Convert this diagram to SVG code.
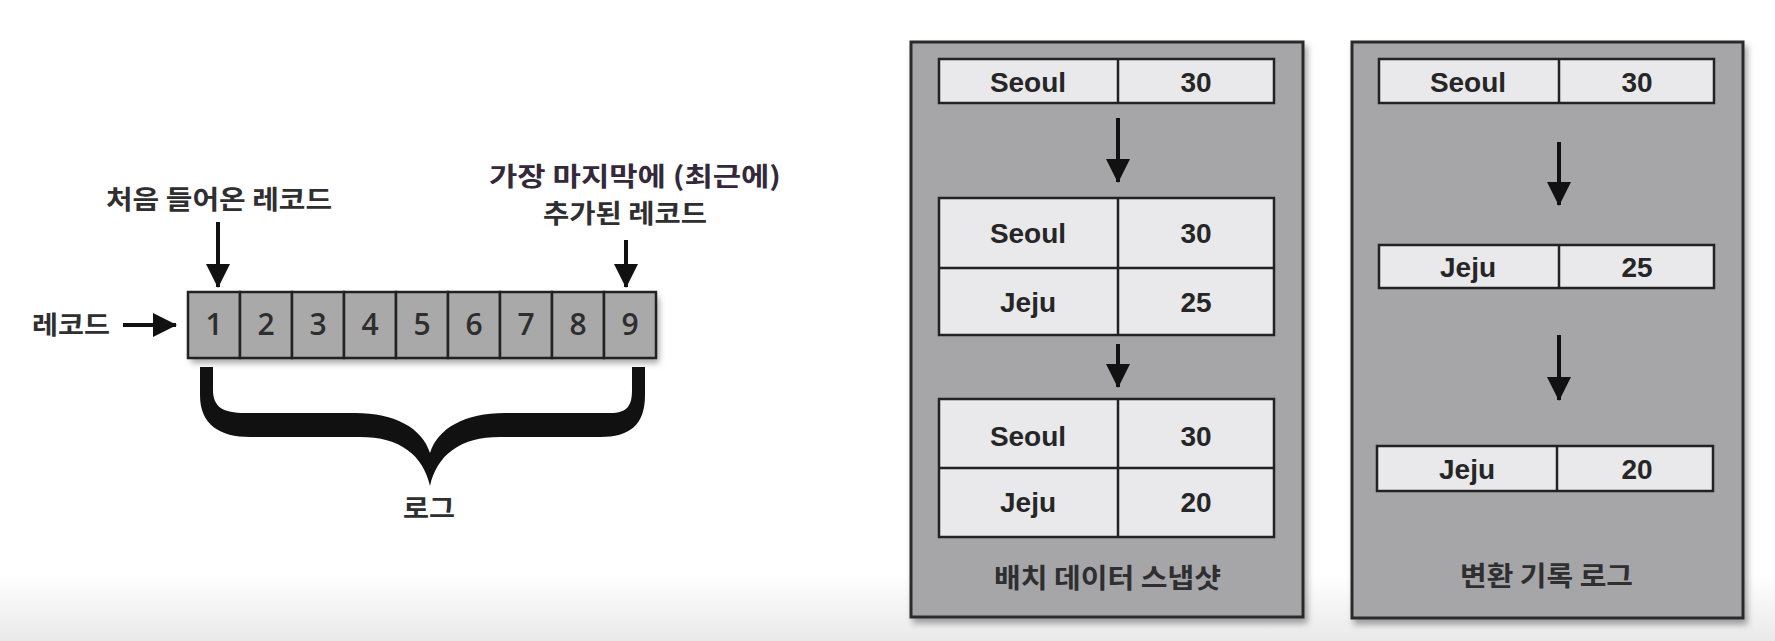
<svg xmlns="http://www.w3.org/2000/svg" width="1775" height="641" viewBox="0 0 1775 641">
<style>
.ko{font-family:"Noto Sans CJK KR","Noto Sans",sans-serif;font-weight:700;fill:#2f2f31;}
.cellnum{font-family:"Open Sans","Noto Sans",sans-serif;font-weight:600;font-size:30px;fill:#2e2e2e;text-anchor:middle;}
.tx{font-family:"Liberation Sans",Arial,sans-serif;font-weight:700;font-size:28px;fill:#262626;text-anchor:middle;}
.lcell{fill:#a9a9aa;stroke:#222;stroke-width:2.5;}
.panel{fill:#a6a6a8;stroke:#2b2b2b;stroke-width:3;}
.row{fill:#e9e9eb;stroke:#222;stroke-width:2.5;}
.sep{stroke:#222;stroke-width:2.5;}
.arr{stroke:#111;stroke-width:4;fill:none;}
</style>
<defs>
<marker id="ah" markerUnits="userSpaceOnUse" markerWidth="24" markerHeight="24" refX="23" refY="12" orient="auto">
<path d="M0,0 L24,12 L0,24 Z" fill="#111"/>
</marker>
<filter id="sh" x="-10%" y="-10%" width="125%" height="130%">
<feDropShadow dx="3" dy="5" stdDeviation="3" flood-color="#000" flood-opacity="0.35"/>
</filter>
<linearGradient id="bg" x1="0" y1="0" x2="0" y2="1">
<stop offset="0" stop-color="#ffffff"/>
<stop offset="1" stop-color="#e9e9e9"/>
</linearGradient>
</defs>
<rect x="0" y="0" width="1775" height="641" fill="#ffffff"/>
<rect x="0" y="575" width="1775" height="66" fill="url(#bg)"/>

<!-- Left: record log -->
<g id="log-strip">
<g filter="url(#sh)">
<rect x="188" y="292" width="468" height="66" fill="#a9a9aa"/>
</g>
<rect class="lcell" x="188" y="292" width="52" height="66"/>
<rect class="lcell" x="240" y="292" width="52" height="66"/>
<rect class="lcell" x="292" y="292" width="52" height="66"/>
<rect class="lcell" x="344" y="292" width="52" height="66"/>
<rect class="lcell" x="396" y="292" width="52" height="66"/>
<rect class="lcell" x="448" y="292" width="52" height="66"/>
<rect class="lcell" x="500" y="292" width="52" height="66"/>
<rect class="lcell" x="552" y="292" width="52" height="66"/>
<rect class="lcell" x="604" y="292" width="52" height="66"/>
<text class="cellnum" x="214" y="335">1</text>
<text class="cellnum" x="266" y="335">2</text>
<text class="cellnum" x="318" y="335">3</text>
<text class="cellnum" x="370" y="335">4</text>
<text class="cellnum" x="422" y="335">5</text>
<text class="cellnum" x="474" y="335">6</text>
<text class="cellnum" x="526" y="335">7</text>
<text class="cellnum" x="578" y="335">8</text>
<text class="cellnum" x="630" y="335">9</text>
</g>

<g id="label-record">
<text class="ko" x="32" y="334" font-size="25" textLength="78" lengthAdjust="spacingAndGlyphs">레코드</text>
</g>
<g id="label-first">
<text class="ko" x="106" y="209" font-size="26" textLength="226" lengthAdjust="spacingAndGlyphs">처음 들어온 레코드</text>
</g>
<g id="label-last">
<text class="ko" x="489" y="186" font-size="26" textLength="292" lengthAdjust="spacingAndGlyphs" style="fill:#33293a">가장 마지막에 (최근에)</text>
<text class="ko" x="543" y="223" font-size="26" textLength="164" lengthAdjust="spacingAndGlyphs">추가된 레코드</text>
</g>
<g id="brace">
<path d="M200,367 L213,367 L213,390 C213,407 223,413 245,413 L355,413 C395,413 422,428 430,453 C438,428 465,413 505,413 L610,413 C628,413 632,405 632,390 L632,367 L645,367 L645,395 C645,425 630,437 600,437 L500,437 C460,437 437,455 430,486 C423,455 400,437 360,437 L250,437 C220,437 200,425 200,395 Z" fill="#111"/>
</g>
<g id="label-log">
<text class="ko" x="403" y="518" font-size="26" textLength="52" lengthAdjust="spacingAndGlyphs">로그</text>
</g>

<!-- Panel 1: batch snapshot -->
<g id="panel-snapshot">
<rect class="panel" x="911" y="42" width="392" height="575" filter="url(#sh)"/>
<rect class="row" x="939" y="59" width="335" height="44"/>
<line class="sep" x1="1118" y1="59" x2="1118" y2="103"/>
<text class="tx" x="1028" y="92">Seoul</text>
<text class="tx" x="1196" y="92">30</text>

<rect class="row" x="939" y="198" width="335" height="137"/>
<line class="sep" x1="939" y1="268" x2="1274" y2="268"/>
<line class="sep" x1="1118" y1="198" x2="1118" y2="335"/>
<text class="tx" x="1028" y="243">Seoul</text>
<text class="tx" x="1196" y="243">30</text>
<text class="tx" x="1028" y="312">Jeju</text>
<text class="tx" x="1196" y="312">25</text>

<rect class="row" x="939" y="399" width="335" height="138"/>
<line class="sep" x1="939" y1="468" x2="1274" y2="468"/>
<line class="sep" x1="1118" y1="399" x2="1118" y2="537"/>
<text class="tx" x="1028" y="446">Seoul</text>
<text class="tx" x="1196" y="446">30</text>
<text class="tx" x="1028" y="512">Jeju</text>
<text class="tx" x="1196" y="512">20</text>

<text class="ko" x="994" y="588" font-size="27" textLength="227" lengthAdjust="spacingAndGlyphs">배치 데이터 스냅샷</text>
</g>

<!-- Panel 2: changelog -->
<g id="panel-changelog">
<rect class="panel" x="1352" y="42" width="391" height="576" filter="url(#sh)"/>
<rect class="row" x="1379" y="59" width="335" height="44"/>
<line class="sep" x1="1559" y1="59" x2="1559" y2="103"/>
<text class="tx" x="1468" y="92">Seoul</text>
<text class="tx" x="1637" y="92">30</text>

<rect class="row" x="1379" y="245" width="335" height="43"/>
<line class="sep" x1="1559" y1="245" x2="1559" y2="288"/>
<text class="tx" x="1468" y="277">Jeju</text>
<text class="tx" x="1637" y="277">25</text>

<rect class="row" x="1377" y="446" width="336" height="45"/>
<line class="sep" x1="1557" y1="446" x2="1557" y2="491"/>
<text class="tx" x="1467" y="479">Jeju</text>
<text class="tx" x="1637" y="479">20</text>

<text class="ko" x="1460" y="586" font-size="27" textLength="173" lengthAdjust="spacingAndGlyphs">변환 기록 로그</text>
</g>

<g id="connectors">
<line class="arr" x1="123" y1="325" x2="176" y2="325" marker-end="url(#ah)"/>
<line class="arr" x1="218" y1="222" x2="218" y2="287" marker-end="url(#ah)"/>
<line class="arr" x1="626" y1="240" x2="626" y2="287" marker-end="url(#ah)"/>
<line class="arr" x1="1118" y1="118" x2="1118" y2="182" marker-end="url(#ah)"/>
<line class="arr" x1="1118" y1="344" x2="1118" y2="387" marker-end="url(#ah)"/>
<line class="arr" x1="1559" y1="142" x2="1559" y2="205" marker-end="url(#ah)"/>
<line class="arr" x1="1559" y1="335" x2="1559" y2="400" marker-end="url(#ah)"/>
</g>
</svg>
